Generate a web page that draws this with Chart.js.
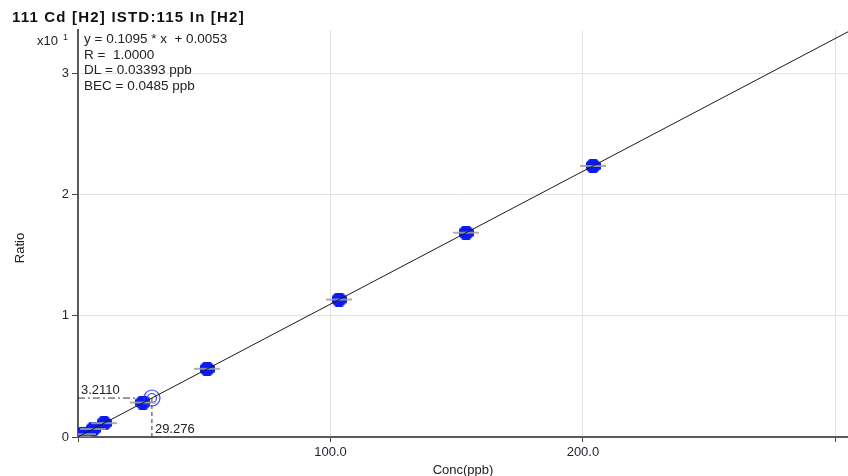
<!DOCTYPE html>
<html>
<head>
<meta charset="utf-8">
<script src="https://cdn.jsdelivr.net/npm/chart.js@4/dist/chart.umd.min.js"></script>
<style>
  body { margin: 0; background: #fff; }
  #calChart { display: block; }
</style>
</head>
<body>
<canvas id="calChart" width="848" height="476"></canvas>
<script>
// calibration standards (conc in ppb, ratio to ISTD)
const concValues = [0, 2.0, 6.0, 10.3, 25.7, 51.1, 103.4, 153.7, 204.0];
const ratioValues = [0.02, 0.23, 0.66, 1.14, 2.84, 5.62, 11.33, 16.84, 22.34];
const blankConc = [0.6];
const blankRatio = [0.54];

// fit and the sample read-back
const slope = 0.1095;
const intercept = 0.0053;
const sampleConc = 29.276;
const sampleRatio = 3.2110;
const fitText = ['y = 0.1095 * x  + 0.0053', 'R =  1.0000', 'DL = 0.03393 ppb', 'BEC = 0.0485 ppb'];

// axes
const yTickValues = [0, 1, 2, 3];
const xTickValues = [0, 100, 200, 300];
const xTickLabels = ['', '100.0', '200.0', ''];
const yExponent = 1; // y axis drawn in units of x10^1
const xMax = 305;
const yMax = 3.355;

const yScaleFactor = Math.pow(10, yExponent);
const FONT = '"Liberation Sans", Arial, sans-serif';

function makeHex() {
    const c = document.createElement('canvas');
    c.width = 15; c.height = 14;
    const g = c.getContext('2d');
    g.fillStyle = '#0a1af2';
    g.beginPath();
    g.moveTo(4, 0); g.lineTo(11, 0); g.lineTo(15, 4); g.lineTo(15, 10);
    g.lineTo(11, 14); g.lineTo(4, 14); g.lineTo(0, 10); g.lineTo(0, 4);
    g.closePath();
    g.fill();
    return c;
}

function makeRing() {
    const c = document.createElement('canvas');
    c.width = 20; c.height = 20;
    const g = c.getContext('2d');
    g.strokeStyle = '#2a3af0';
    g.lineWidth = 1.2;
    g.beginPath(); g.arc(10, 10, 8, 0, Math.PI * 2); g.stroke();
    g.beginPath(); g.arc(10, 10, 4.5, 0, Math.PI * 2); g.stroke();
    return c;
}

const stdPoints = concValues.map((x, i) => ({ x: x, y: ratioValues[i] / yScaleFactor }));
const blankPoints = blankConc.map((x, i) => ({ x: x, y: blankRatio[i] / yScaleFactor }));
const fitPoints = [0, xMax].map(x => ({ x: x, y: (slope * x + intercept) / yScaleFactor }));
const sampleY = sampleRatio / yScaleFactor;

// text that sits around the plot area
const labelsPlugin = {
    id: 'calLabels',
    afterDraw(chart) {
        const ctx = chart.ctx;
        const area = chart.chartArea;
        const xs = chart.scales.x, ys = chart.scales.y;
        ctx.save();
        ctx.fillStyle = '#111';
        ctx.textBaseline = 'alphabetic';
        ctx.textAlign = 'left';

        ctx.font = 'bold 15px ' + FONT;
        ctx.letterSpacing = '1.2px';
        ctx.fillText('111 Cd [H2] ISTD:115 In [H2]', 12, 22);
        ctx.letterSpacing = '0px';

        ctx.fillStyle = '#222';
        ctx.font = '13px ' + FONT;
        ctx.fillText('x10', 37, 45);
        ctx.font = '9px ' + FONT;
        ctx.fillText(String(yExponent), 63, 40);

        ctx.font = '13.5px ' + FONT;
        fitText.forEach((t, i) => ctx.fillText(t, area.left + 6, 43 + i * 15.5));

        const px = xs.getPixelForValue(sampleConc);
        const py = ys.getPixelForValue(sampleY);
        ctx.font = '13px ' + FONT;
        ctx.fillText(sampleRatio.toFixed(4), area.left + 3, py - 4);
        ctx.fillText(sampleConc.toFixed(3), px + 3, area.bottom - 4);

        ctx.textAlign = 'center';
        ctx.fillText('Conc(ppb)', 463, 474);
        ctx.translate(24, 248);
        ctx.rotate(-Math.PI / 2);
        ctx.fillText('Ratio', 0, 0);
        ctx.restore();
    }
};

new Chart(document.getElementById('calChart'), {
    type: 'scatter',
    data: {
        datasets: [
            {
                // fitted line
                data: fitPoints, showLine: true, borderColor: '#1a1a1a', borderWidth: 1,
                pointRadius: 0, order: 0
            },
            {
                // replicate spread bars
                data: stdPoints, pointStyle: 'line', pointRadius: 13, pointBorderWidth: 2,
                pointBorderColor: 'rgba(160,160,160,0.85)', order: 1
            },
            {
                data: stdPoints, pointStyle: makeHex(), order: 2
            },
            {
                data: blankPoints, pointStyle: 'rect', pointRadius: 3,
                pointBackgroundColor: '#000', pointBorderColor: '#000', order: 3
            },
            {
                data: [{ x: sampleConc, y: sampleY }], pointStyle: makeRing(), order: 1
            },
            {
                // read-back guides
                data: [{ x: 0, y: sampleY }, { x: sampleConc, y: sampleY }], showLine: true,
                borderColor: '#333', borderWidth: 1, borderDash: [7, 3, 2, 3], pointRadius: 0, order: 4
            },
            {
                data: [{ x: sampleConc, y: sampleY }, { x: sampleConc, y: 0 }], showLine: true,
                borderColor: '#333', borderWidth: 1, borderDash: [4, 3], pointRadius: 0, order: 4
            }
        ]
    },
    options: {
        responsive: false,
        animation: false,
        events: [],
        layout: { autoPadding: false, padding: { top: 30, left: 0, right: 0, bottom: 0 } },
        plugins: { legend: { display: false }, tooltip: { enabled: false } },
        scales: {
            x: {
                type: 'linear', min: 0, max: xMax,
                afterBuildTicks: s => { s.ticks = xTickValues.map(v => ({ value: v })); },
                afterFit: s => { s.height = 39; s.paddingLeft = 0; s.paddingRight = 0; },
                grid: { color: '#e2e2e2', tickColor: '#444', tickLength: 5 },
                border: { color: '#5a5a5a', width: 2 },
                ticks: {
                    autoSkip: false, maxRotation: 0, padding: 3, color: '#1c2230',
                    font: { family: FONT, size: 13 },
                    callback: (v, i) => xTickLabels[i]
                }
            },
            y: {
                type: 'linear', min: 0, max: yMax,
                afterBuildTicks: s => { s.ticks = yTickValues.map(v => ({ value: v })); },
                afterFit: s => { s.width = 78; s.paddingTop = 0; s.paddingBottom = 0; },
                grid: { color: '#e2e2e2', tickColor: '#444', tickLength: 6 },
                border: { color: '#5a5a5a', width: 2 },
                ticks: {
                    padding: 3, color: '#1c2230',
                    font: { family: FONT, size: 13 },
                    callback: v => String(v)
                }
            }
        }
    },
    plugins: [labelsPlugin]
});
</script>
</body>
</html>
